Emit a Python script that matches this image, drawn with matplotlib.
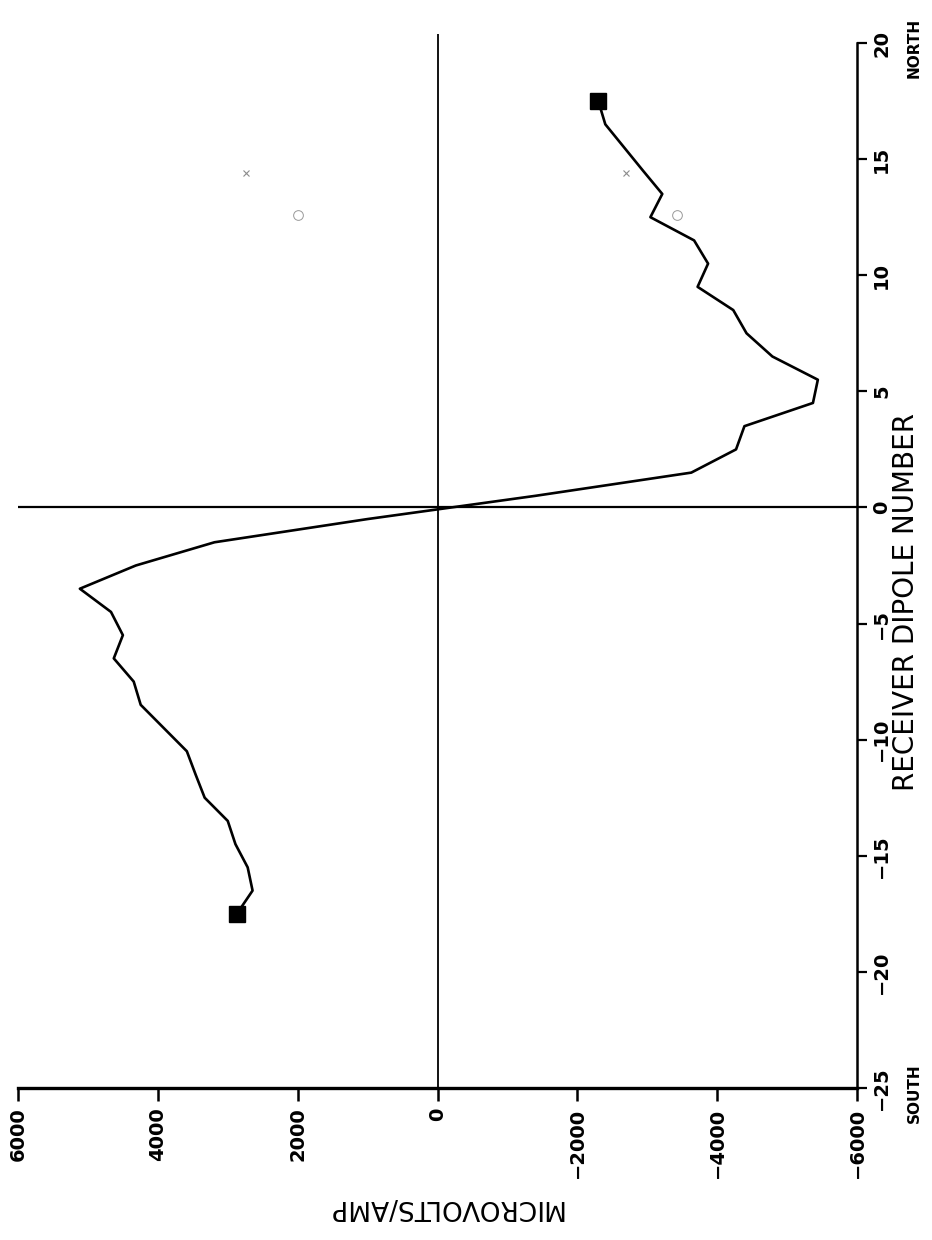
import matplotlib.pyplot as plt
import numpy as np

# receiver dipole positions and measured response (microvolts/amp)
dipoles = [-17.5, -16.5, -15.5, -14.5, -13.5, -12.5, -11.5, -10.5, -9.5, -8.5,
           -7.5, -6.5, -5.5, -4.5, -3.5, -2.5, -1.5, -0.5, 0.5, 1.5,
           2.5, 3.5, 4.5, 5.5, 6.5, 7.5, 8.5, 9.5, 10.5, 11.5,
           12.5, 13.5, 14.5, 15.5, 16.5, 17.5]
microvolts = [2870, 2645, 2715, 2890, 3000, 3330, 3460, 3585, 3915, 4245,
              4345, 4630, 4500, 4670, 5115, 4315, 3190, 1000, -1400, -3630,
              -4270, -4390, -5370, -5440, -4790, -4420, -4230, -3720, -3870, -3670,
              -3045, -3215, -2940, -2670, -2400, -2300]

# faint reference symbols
star_dip = [14.4, 14.4]
star_uv = [2745, -2690]
circ_dip = [12.6, 12.6]
circ_uv = [2000, -3430]

uv_ticks = [6000, 4000, 2000, 0, -2000, -4000, -6000]
dip_ticks = [-25, -20, -15, -10, -5, 0, 5, 10, 15, 20]

plt.rcParams['font.family'] = 'DejaVu Sans'

fig = plt.figure(figsize=(9.32, 12.4), dpi=100)
ax = fig.add_axes([18 / 932, 0.1226, 839 / 932, 0.8502])

ax.axvline(0, color='black', lw=1.3, zorder=1)
ax.axhline(0, color='black', lw=1.6, zorder=1)

ax.plot(microvolts, dipoles, color='black', lw=1.9, zorder=3)
ax.plot([microvolts[0], microvolts[-1]], [dipoles[0], dipoles[-1]], ls='none',
        marker='s', ms=12, color='black', zorder=4)
ax.plot(star_uv, star_dip, ls='none', marker='x', ms=5, mew=0.8, color='0.55', zorder=2)
ax.plot(circ_uv, circ_dip, ls='none', marker='o', ms=7, mfc='none', mew=0.7,
        mec='0.6', zorder=2)

ax.set_xlim(6000, -6000)
ax.set_ylim(-25, 20.4)

for side in ['top', 'left']:
    ax.spines[side].set_visible(False)
ax.spines['bottom'].set_linewidth(2.4)
ax.spines['right'].set_linewidth(1.8)
ax.spines['right'].set_bounds(-25, 20)

ax.set_xticks(uv_ticks)
ax.set_xticklabels([f'{t:d}'.replace('-', '\u2212') for t in uv_ticks],
                   rotation=90, fontsize=14, fontweight='bold')
ax.set_yticks(dip_ticks)
ax.set_yticklabels([f'{t:d}'.replace('-', '\u2212') for t in dip_ticks],
                   rotation=90, fontsize=14, fontweight='bold', va='center')
ax.yaxis.tick_right()
ax.tick_params(axis='x', direction='out', length=9, width=1.8, pad=5)
ax.tick_params(axis='y', direction='out', length=7, width=1.6, pad=4)

fig.text(906 / 932, 1 - 602 / 1240, 'RECEIVER DIPOLE NUMBER', rotation=90,
         ha='center', va='center', fontsize=20)
fig.text(445 / 932, 1 - 1207 / 1240, 'MICROVOLTS/AMP', rotation=180,
         ha='center', va='center', fontsize=19)
fig.text(914 / 932, 1 - 48 / 1240, 'NORTH', rotation=90, ha='center', va='center',
         fontsize=11, fontweight='bold')
fig.text(914 / 932, 1 - 1093 / 1240, 'SOUTH', rotation=90, ha='center', va='center',
         fontsize=11, fontweight='bold')

fig.savefig('out.png', dpi=100, facecolor='white')
